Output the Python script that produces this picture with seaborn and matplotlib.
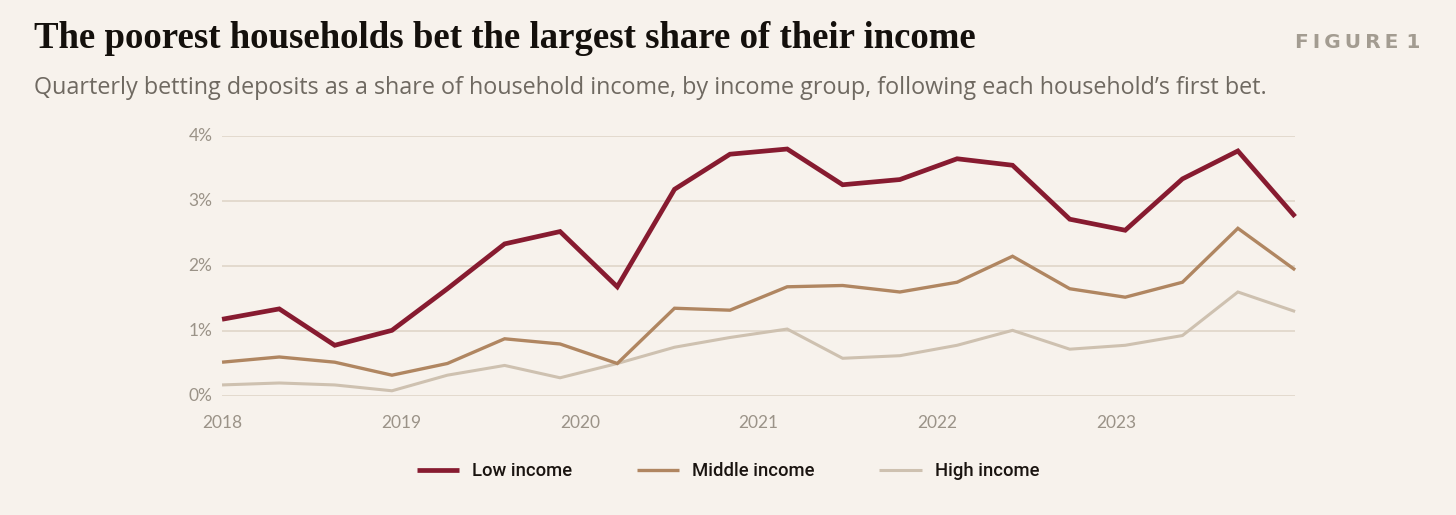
import matplotlib
matplotlib.use("Agg")
import matplotlib.pyplot as plt
import seaborn as sns
import pandas as pd

# ---- data ----
x_years = [2018.00, 2018.32, 2018.63, 2018.95, 2019.26, 2019.58, 2019.89, 2020.21,
           2020.53, 2020.84, 2021.16, 2021.47, 2021.79, 2022.11, 2022.42, 2022.74,
           2023.05, 2023.37, 2023.68, 2024.00]
low_income = [1.18, 1.34, 0.78, 1.01, 1.65, 2.34, 2.53, 1.68, 3.18, 3.72,
              3.80, 3.25, 3.33, 3.65, 3.55, 2.72, 2.55, 3.34, 3.77, 2.76]
middle_income = [0.52, 0.60, 0.52, 0.32, 0.50, 0.88, 0.80, 0.50, 1.35, 1.32,
                 1.68, 1.70, 1.60, 1.75, 2.15, 1.65, 1.52, 1.75, 2.58, 1.94]
high_income = [0.17, 0.20, 0.17, 0.08, 0.32, 0.47, 0.28, 0.50, 0.75, 0.90,
               1.03, 0.58, 0.62, 0.78, 1.01, 0.72, 0.78, 0.93, 1.60, 1.30]
series_names = ["Low income", "Middle income", "High income"]
year_ticks = [2018, 2019, 2020, 2021, 2022, 2023]
y_ticks = [0, 1, 2, 3, 4]

title = "The poorest households bet the largest share of their income"
subtitle = ("Quarterly betting deposits as a share of household income, by income group, "
            "following each household\u2019s first bet.")

# ---- styles ----
BG = "#f7f2ec"
colors = {"Low income": "#871b30", "Middle income": "#b08661", "High income": "#cec1b0"}
widths = {"Low income": 3.4, "Middle income": 2.4, "High income": 2.2}
GRID = "#e3dace"
TICK = "#9b9388"

df = pd.concat([
    pd.DataFrame({"x": x_years, "value": vals, "group": name})
    for name, vals in zip(series_names, [low_income, middle_income, high_income])
])

sns.set_theme(style="white")
plt.rcParams["font.family"] = ["Lato", "DejaVu Sans"]

fig = plt.figure(figsize=(14.56, 5.15), dpi=100, facecolor=BG)
ax = fig.add_axes([0.1525, 0.2311, 0.7370, 0.5048], facecolor=BG)

for name in reversed(series_names):
    sub = df[df["group"] == name]
    sns.lineplot(data=sub, x="x", y="value", ax=ax, color=colors[name],
                 linewidth=widths[name], label=name, legend=False,
                 solid_joinstyle="miter", solid_capstyle="butt", clip_on=False, zorder=3)

ax.set_xlim(2018, 2024)
ax.set_ylim(0, 4)
ax.set_yticks(y_ticks)
ax.set_yticklabels([f"{t}%" for t in y_ticks])
ax.set_xticks(year_ticks)
ax.set_xticklabels([str(t) for t in year_ticks])
ax.set_xlabel("")
ax.set_ylabel("")
for s in ax.spines.values():
    s.set_visible(False)
ax.yaxis.grid(True, color=GRID, linewidth=1.4, zorder=0)
ax.xaxis.grid(False)
ax.tick_params(axis="y", length=0, pad=7, labelsize=12.5, labelcolor=TICK)
ax.tick_params(axis="x", length=0, pad=14, labelsize=12.5, labelcolor=TICK)
for lab in ax.get_yticklabels():
    lab.set_verticalalignment("center")

# legend
handles, labels = ax.get_legend_handles_labels()
order = [labels.index(n) for n in series_names]
leg = fig.legend([handles[i] for i in order], [labels[i] for i in order],
                 loc="center", bbox_to_anchor=(0.5, 0.085), ncol=3, frameon=False,
                 prop={"family": ["Liberation Sans Narrow", "Roboto", "DejaVu Sans"],
                       "size": 13.3, "weight": "medium"},
                 handlelength=2.3, handletextpad=0.7, columnspacing=3.5)
for t in leg.get_texts():
    t.set_color("#1a1410")
for h in leg.get_lines():
    h.set_solid_capstyle("butt")

# titles
fig.text(34 / 1456, 1 - 38 / 515, title, ha="left", va="center",
         fontsize=26.5, fontweight="bold", color="#14100c",
         family=["Liberation Serif", "DejaVu Serif"])
fig.text(34 / 1456, 1 - 88 / 515, subtitle, ha="left", va="center",
         fontsize=16.8, color="#6f6961", family=["Open Sans", "DejaVu Sans"])
fig.text(1420 / 1456, 1 - 42 / 515, "F\u2009I\u2009G\u2009U\u2009R\u2009E\u2009\u20091",
         ha="right", va="center", fontsize=14.5, fontweight="bold", color="#a39c91",
         family=["DejaVu Sans"])

fig.savefig("out.png", dpi=100, facecolor=BG)
